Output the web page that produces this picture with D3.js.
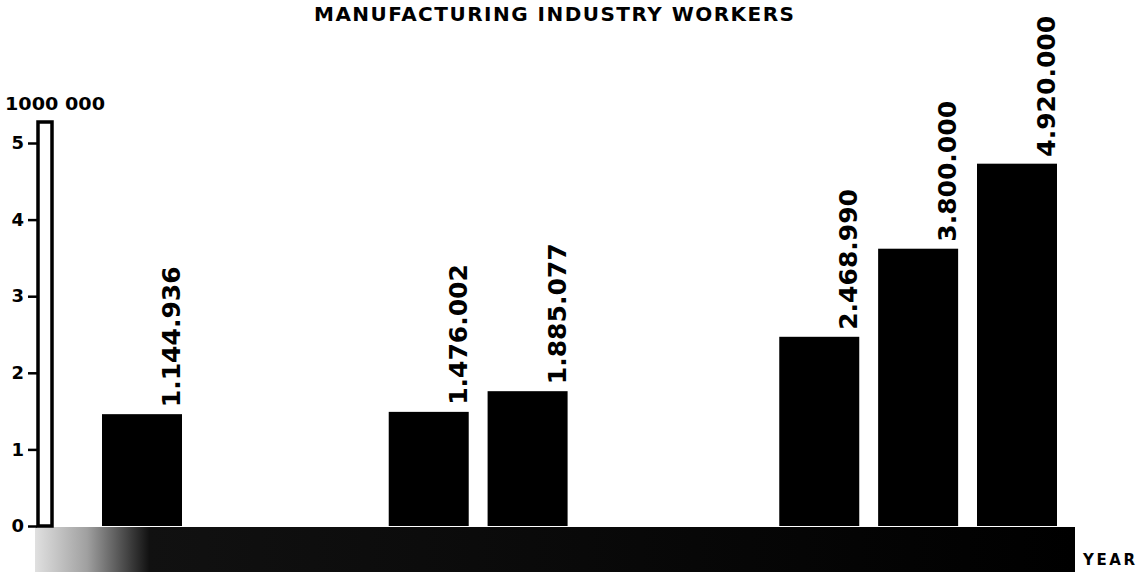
<!DOCTYPE html>
<meta charset="utf-8">
<head>
    <script src="https://d3js.org/d3.v7.min.js"></script>  <!-- D3 -->
    <style>
        body {
            margin: 0;
            background: #fff;
        }
        .tick text {
            font: bold 18px "DejaVu Sans";
        }
        .bar-label {
            font: bold 25px "DejaVu Sans";
        }
    </style>
</head>
<body>
    <div id="graph"></div>
</body>

<script>
    // position of each bar on the (unlabelled) year axis
    var slots = [0, 2.9, 3.9, 6.85, 7.85, 8.85];
    // bar heights as drawn, in millions of workers
    var heights = [1.46, 1.49, 1.76, 2.47, 3.62, 4.73];
    // numbers printed above the bars
    var labels = ["1.144.936", "1.476.002", "1.885.077", "2.468.990", "3.800.000", "4.920.000"];
    var yTicks = [0, 1, 2, 3, 4, 5];

    var width = 1137,
        height = 572;

    var svg = d3.select("#graph")
      .append("svg")
        .attr("width", width)
        .attr("height", height);

    var y = d3.scaleLinear()
        .domain([0, 5])
        .range([526, 143]);

    var x = d3.scaleLinear()
        .domain([0, 8.85])
        .range([102, 977]);
    var barWidth = 80;

    // gradient for the worn band along the bottom
    var grad = svg.append("defs").append("linearGradient")
        .attr("id", "band")
        .attr("x1", "0").attr("x2", "1").attr("y1", "0").attr("y2", "0");
    grad.append("stop").attr("offset", "0").attr("stop-color", "#e0e0e0");
    grad.append("stop").attr("offset", "0.05").attr("stop-color", "#a0a0a0");
    grad.append("stop").attr("offset", "0.11").attr("stop-color", "#111");
    grad.append("stop").attr("offset", "1").attr("stop-color", "#000");

    // title
    svg.append("text")
        .attr("x", 554)
        .attr("y", 21)
        .attr("text-anchor", "middle")
        .attr("textLength", 480)
        .attr("lengthAdjust", "spacing")
        .style("font", "bold 20px 'DejaVu Sans'")
        .text("MANUFACTURING INDUSTRY WORKERS");

    // unit label
    svg.append("text")
        .attr("x", 5)
        .attr("y", 110)
        .attr("textLength", 100)
        .attr("lengthAdjust", "spacingAndGlyphs")
        .style("font", "bold 17px 'DejaVu Sans'")
        .text("1000 000");

    // bottom band
    svg.append("rect")
        .attr("x", 35)
        .attr("y", y(0) + 1)
        .attr("width", 1040)
        .attr("height", height - y(0))
        .attr("fill", "url(#band)");

    // vertical scale bar
    svg.append("rect")
        .attr("x", 38)
        .attr("y", 122)
        .attr("width", 14)
        .attr("height", y(0) - 122)
        .attr("fill", "#fff")
        .attr("stroke", "#000")
        .attr("stroke-width", 3.5);

    // Y axis
    var yAxis = d3.axisLeft(y)
        .tickValues(yTicks)
        .tickSize(9)
        .tickPadding(4)
        .tickFormat(d3.format("d"));
    var gy = svg.append("g")
        .attr("transform", "translate(37,0)")
        .call(yAxis);
    gy.select(".domain").remove();
    gy.selectAll(".tick line").attr("stroke-width", 2.5);

    // bars
    svg.selectAll(".bar")
        .data(heights)
        .enter()
        .append("rect")
        .attr("class", "bar")
        .attr("x", function (d, i) { return x(slots[i]); })
        .attr("y", function (d) { return y(d); })
        .attr("width", barWidth)
        .attr("height", function (d) { return y(0) - y(d); })
        .attr("fill", "#000");

    // rotated value labels
    svg.selectAll(".bar-label")
        .data(labels)
        .enter()
        .append("text")
        .attr("class", "bar-label")
        .attr("transform", function (d, i) {
            var tx = x(slots[i]) + barWidth - 2;
            var ty = y(heights[i]) - 7;
            return "translate(" + tx + "," + ty + ") rotate(-90)";
        })
        .text(function (d) { return d; });

    // axis name
    svg.append("text")
        .attr("x", 1083)
        .attr("y", 565)
        .attr("textLength", 52)
        .attr("lengthAdjust", "spacing")
        .style("font", "bold 15px 'DejaVu Sans'")
        .text("YEAR");
</script>
